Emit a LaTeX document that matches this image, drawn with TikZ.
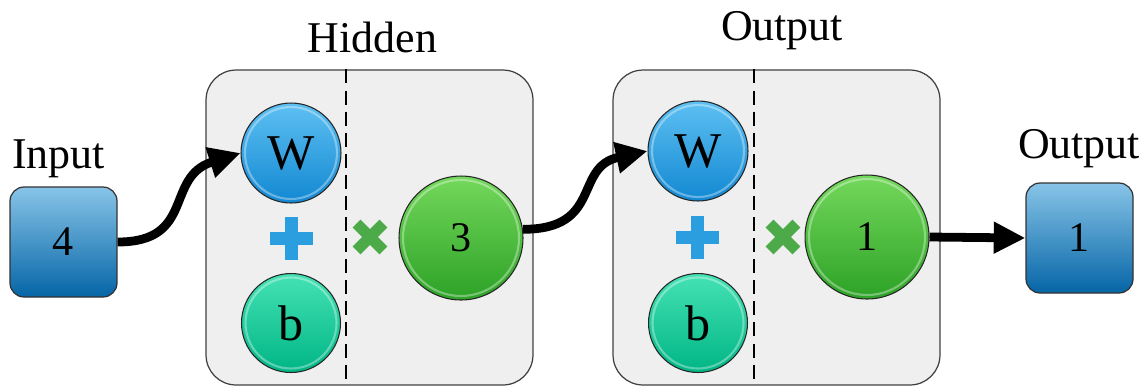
\documentclass[tikz,border=0pt]{standalone}
\usepackage{fontspec}
\setmainfont{Liberation Serif}
\usetikzlibrary{arrows.meta,calc}
\definecolor{panelgray}{HTML}{EFEFEF}
\definecolor{boxtop}{HTML}{88C4E8}
\definecolor{boxbot}{HTML}{0565A6}
\definecolor{wtop}{HTML}{5EC0F2}
\definecolor{wbot}{HTML}{1288D2}
\definecolor{btop}{HTML}{45E2B4}
\definecolor{bbot}{HTML}{00B585}
\definecolor{gtop}{HTML}{74D85C}
\definecolor{gbot}{HTML}{2CA226}
\definecolor{plusblue}{HTML}{2B9EE0}
\definecolor{crossgreen}{HTML}{4CAA48}
\begin{document}
\begin{tikzpicture}[x=0.02cm,y=-0.02cm,
  panel/.style={draw=black!75, line width=0.7pt, fill=panelgray, rounded corners=0.6cm,
    minimum width=6.54cm, minimum height=6.3cm, inner sep=0pt},
  valbox/.style={draw=black!80, line width=0.7pt, rounded corners=0.28cm,
    top color=boxtop, bottom color=boxbot, minimum width=2.14cm, minimum height=2.2cm,
    inner sep=0pt, font=\fontsize{24}{24}\selectfont},
  ball/.style={circle, draw=black!85, line width=0.6pt, inner sep=0pt},
  wnode/.style={ball, top color=wtop, bottom color=wbot, minimum size=2cm,
    font=\fontsize{28.5}{28}\selectfont,
    path picture={\draw[white,opacity=0.35,line width=1.2pt] (path picture bounding box.center) circle (0.92cm);}},
  bnode/.style={ball, top color=btop, bottom color=bbot, minimum size=1.98cm,
    font=\fontsize{28.5}{28}\selectfont,
    path picture={\draw[white,opacity=0.35,line width=1.2pt] (path picture bounding box.center) circle (0.91cm);}},
  gnode/.style={ball, top color=gtop, bottom color=gbot, minimum size=2.48cm,
    font=\fontsize{24}{24}\selectfont,
    path picture={\draw[white,opacity=0.35,line width=1.2pt] (path picture bounding box.center) circle (1.16cm);}},
  lbl/.style={anchor=base, font=\fontsize{25}{25}\selectfont},
  divider/.style={line width=1.5pt, dash pattern=on 8pt off 4pt},
  conn/.style={line width=5pt, -{Triangle[length=18pt,width=17pt]}},
  plussign/.style={fill=plusblue},
  crosssign/.style={fill=crossgreen}
]
\useasboundingbox (0,0) rectangle (1148,387);

% panels
\node[panel] (p1) at (369.5,227.5) {};
\node[panel] (p2) at (776.5,227.5) {};
\draw[divider] (346,0 |- p1.north) -- (346,0 |- p1.south);
\draw[divider] (754,0 |- p2.north) -- (754,0 |- p2.south);

% labels
\node[lbl] (linput) at (58.5,168) {Input};
\node[lbl] (lhidden) at (372.5,52) {Hidden};
\node[lbl] (lout1) at (782,40) {Output};
\node[lbl] (lout2) at (1079,158) {Output};

% boxes
\node[valbox] (in) at (63.5,242) {4};
\node[valbox] (out) at (1079.5,238) {1};

% hidden layer
\node[wnode] (w1) at (291,153) {W};
\node[bnode] (b1) at (291,323) {b};
\node[gnode] (h) at (461,238) {3};
\begin{scope}[shift={(291,238)}]
  \fill[plussign] (-21.5,-6.5) rectangle (21.5,6.5);
  \fill[plussign] (-6.5,-21.5) rectangle (6.5,21.5);
\end{scope}
\begin{scope}[shift={(370,237)},rotate=45]
  \fill[crosssign] (-19,-5.5) rectangle (19,5.5);
  \fill[crosssign] (-5.5,-19) rectangle (5.5,19);
\end{scope}

% output layer
\node[wnode] (w2) at (698,151) {W};
\node[bnode] (b2) at (698,323) {b};
\node[gnode] (o) at (867,237) {1};
\begin{scope}[shift={(697,237)}]
  \fill[plussign] (-21.5,-6.5) rectangle (21.5,6.5);
  \fill[plussign] (-6.5,-21.5) rectangle (6.5,21.5);
\end{scope}
\begin{scope}[shift={(783,237)},rotate=45]
  \fill[crosssign] (-19,-5.5) rectangle (19,5.5);
  \fill[crosssign] (-5.5,-19) rectangle (5.5,19);
\end{scope}

% connectors
\draw[conn] (in.east) .. controls +(78,0) and +(-76,24) .. (w1.west);
\draw[conn] (h.8) .. controls +(80,0) and +(-74,16) .. (w2.west);
\draw[conn] (o.east) -- (out.west);
\end{tikzpicture}
\end{document}
